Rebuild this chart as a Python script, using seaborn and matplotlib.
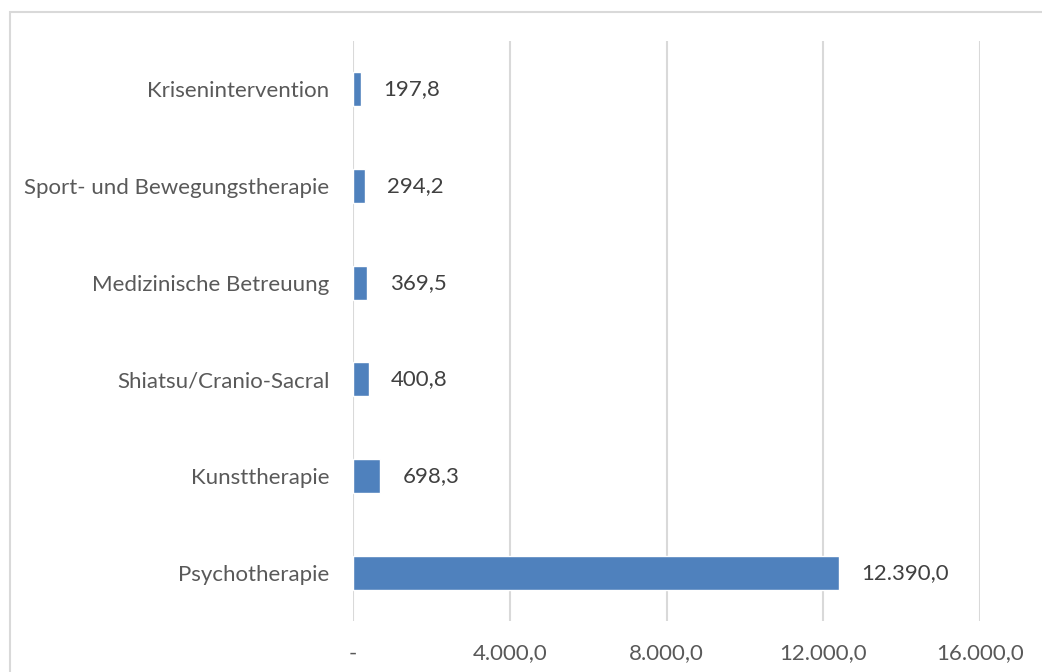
import matplotlib
matplotlib.use("Agg")
import matplotlib.pyplot as plt
from matplotlib.patches import Rectangle
from matplotlib.ticker import FuncFormatter
import seaborn as sns
import pandas as pd

categories = [
    "Krisenintervention",
    "Sport- und Bewegungstherapie",
    "Medizinische Betreuung",
    "Shiatsu/Cranio-Sacral",
    "Kunsttherapie",
    "Psychotherapie",
]
values = [197.8, 294.2, 369.5, 400.8, 698.3, 12390.0]
x_ticks = [0, 4000, 8000, 12000, 16000]

BAR_COLOR = "#4F81BD"
TEXT_COLOR = "#595959"
GRID_COLOR = "#D9D9D9"


def de_format(v):
    # Excel-Buchhaltungsformat: 0 als "-", sonst 1.234,5
    if v == 0:
        return "-"
    s = f"{v:,.1f}"
    return s.replace(",", "X").replace(".", ",").replace("X", ".")


def main():
    sns.set_style("white")
    plt.rcParams["font.family"] = ["Lato", "DejaVu Sans"]

    df = pd.DataFrame({"Kategorie": categories, "Wert": values})

    fig = plt.figure(figsize=(10.42, 6.72), dpi=100)
    ax = fig.add_axes([353 / 1042, 1 - 621 / 672, 627 / 1042, 580 / 672])

    sns.barplot(
        data=df,
        x="Wert",
        y="Kategorie",
        order=categories,
        orient="h",
        color=BAR_COLOR,
        saturation=1,
        width=0.35,
        ax=ax,
    )

    ax.set_xlim(0, 16000)
    ax.set_xticks(x_ticks)
    ax.xaxis.set_major_formatter(FuncFormatter(lambda v, p: de_format(v)))
    ax.grid(axis="x", color=GRID_COLOR, linewidth=1.5)
    ax.set_axisbelow(True)
    for side in ["top", "right", "bottom", "left"]:
        ax.spines[side].set_visible(False)
    ax.set_xlabel("")
    ax.set_ylabel("")
    ax.tick_params(axis="y", length=0, pad=17, labelsize=16, labelcolor=TEXT_COLOR)
    ax.tick_params(axis="x", length=0, pad=16, labelsize=16, labelcolor=TEXT_COLOR)

    ax.bar_label(
        ax.containers[0],
        labels=[de_format(v) for v in values],
        padding=16,
        fontsize=16,
        color="#404040",
    )

    # Rahmen um das Diagramm
    fig.patches.append(
        Rectangle(
            (10 / 1042, -0.1),
            1.2,
            1 - 12 / 672 + 0.1,
            transform=fig.transFigure,
            fill=False,
            edgecolor=GRID_COLOR,
            linewidth=1.5,
        )
    )

    fig.savefig("out.png", dpi=100)
    plt.close(fig)


if __name__ == "__main__":
    main()
